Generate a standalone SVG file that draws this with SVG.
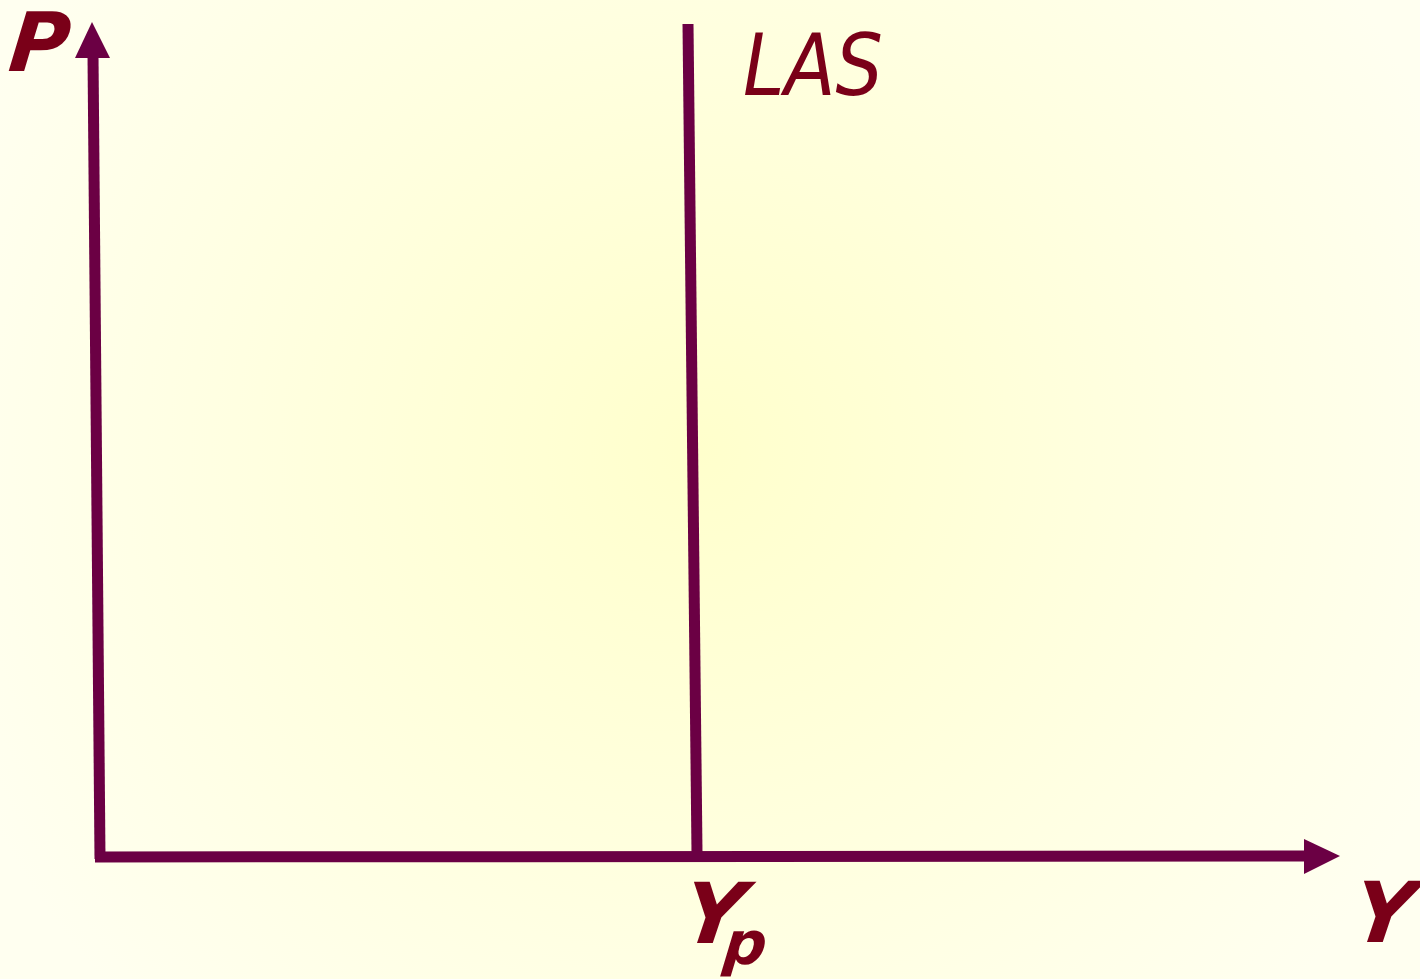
<svg xmlns="http://www.w3.org/2000/svg" width="1420" height="979" viewBox="0 0 1420 979">
<defs>
<radialGradient id="bg" cx="700" cy="450" r="800" gradientUnits="userSpaceOnUse">
<stop offset="0" stop-color="#FFFFCC"/>
<stop offset="1" stop-color="#FFFFF0"/>
</radialGradient>
<style>
.ax{stroke:#6B0044;stroke-width:11;fill:none}
.hd{fill:#6B0044}
.lb{fill:#7A0018;font-family:"DejaVu Sans",sans-serif;font-style:oblique}
.b{font-weight:bold}
</style>
</defs>
<rect width="1420" height="979" fill="url(#bg)"/>
<g id="connectors">
<path class="ax" d="M100,859 L93,55"/>
<polygon class="hd" points="92,22 110,58 75,58"/>
<path class="ax" d="M95,857 L1306,856"/>
<polygon class="hd" points="1340,856 1304,839 1304,874"/>
</g>
<g id="LAS">
<path class="ax" d="M688,24 L697,853"/>
<text class="lb" x="743" y="95" font-size="86" textLength="140" lengthAdjust="spacingAndGlyphs">LAS</text>
</g>
<g id="P"><text class="lb b" transform="translate(7,71) skewX(-6)" font-size="82">P</text></g>
<g id="Yp"><text class="lb b" transform="translate(680,943) skewX(-8)" font-size="84">Y</text><text class="lb b" transform="translate(722,964) skewX(-6)" font-size="60">p</text></g>
<g id="Y"><text class="lb b" transform="translate(1350,942) skewX(-8)" font-size="84">Y</text></g>
</svg>
